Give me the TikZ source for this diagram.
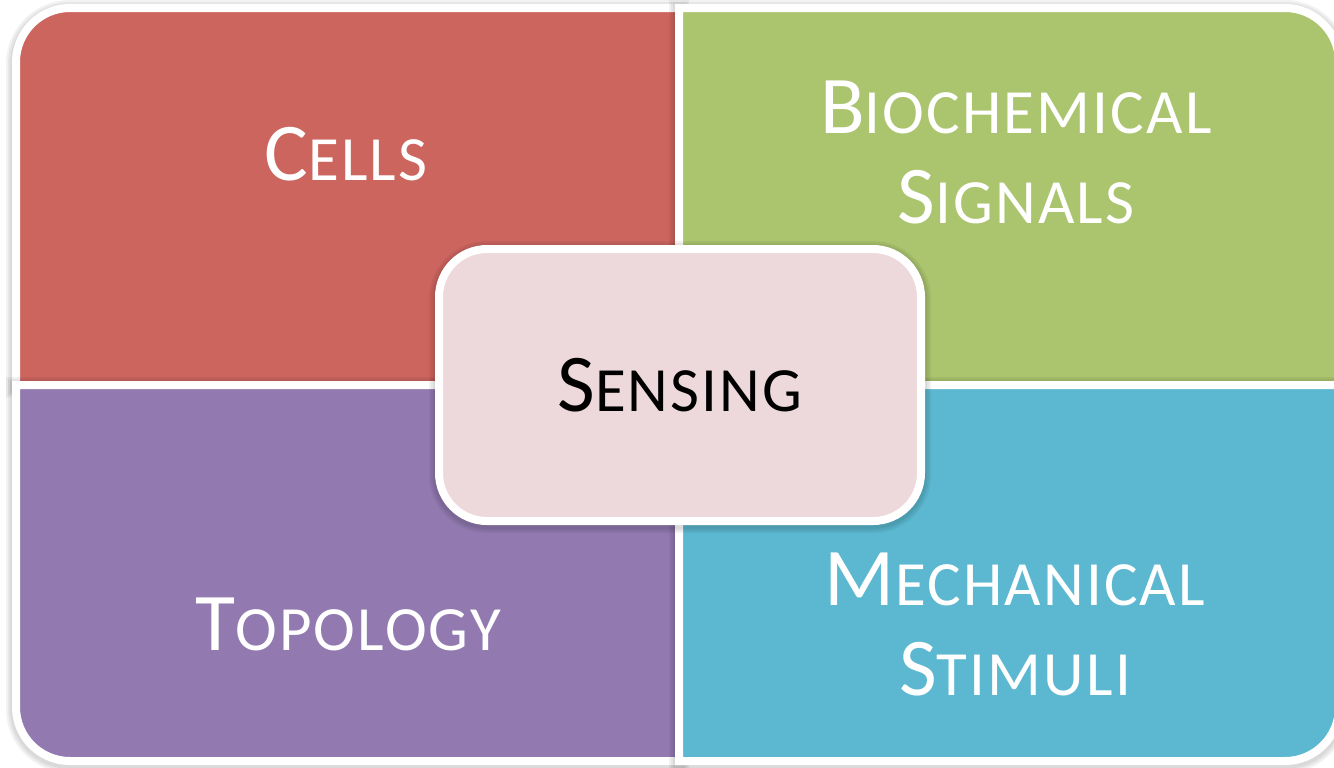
\documentclass[tikz,border=0pt]{standalone}
\usepackage{fontspec}
\setmainfont{Carlito}
\definecolor{cellred}{RGB}{205,101,95}
\definecolor{biogreen}{RGB}{171,196,110}
\definecolor{topopurple}{RGB}{146,122,177}
\definecolor{mechblue}{RGB}{91,184,208}
\definecolor{sensepink}{RGB}{237,217,219}
% first letter full size, the rest as small capitals
\newcommand{\capsword}[2]{#1{\fontsize{31.5}{45}\selectfont\addfontfeature{LetterSpace=3.5}#2}}
\begin{document}
\begin{tikzpicture}[
		x=0.5pt, y=-0.5pt,
		halo/.style  = {draw=black, draw opacity=0.05, line width=#1, transform canvas={yshift=-1pt}},
		shade/.style = {preaction={halo=10pt}, preaction={halo=8pt}, preaction={halo=6pt}},
		quad/.style  = {shade, fill=#1, draw=white, line width=4pt},
		lbl/.style   = {text=white, font=\fontsize{41}{45}\selectfont, align=center}
		]
		\useasboundingbox (0,0) rectangle (1334,767);
		
		% Quadrants, each rounded at its outer corner
		\path[quad=cellred] (16,385) -- (16,200) [rounded corners=27pt] -- (16,8) -- (300,8) [sharp corners] -- (679,8) -- (679,385) -- cycle;
		\path[quad=biogreen] (679,385) -- (679,8) -- (1000,8) [rounded corners=27pt] -- (1339,8) -- (1339,200) [sharp corners] -- (1339,385) -- cycle;
		\path[quad=topopurple] (679,385) -- (16,385) -- (16,600) [rounded corners=27pt] -- (16,761) -- (300,761) [sharp corners] -- (679,761) -- cycle;
		\path[quad=mechblue] (679,385) -- (1339,385) -- (1339,600) [rounded corners=27pt] -- (1339,761) -- (1000,761) [sharp corners] -- (679,761) -- cycle;
		
		% Quadrant labels
		\node[lbl, anchor=base] (cells) at (346,180) {\capsword{C}{ELLS}};
		\node[lbl] (biochem) at (1016,152) {\capsword{B}{IOCHEMICAL}\\\capsword{S}{IGNALS}};
		\node[lbl, anchor=base] (topo) at (348,650) {\capsword{T}{OPOLOGY}};
		\node[lbl] (mech) at (1015,624) {\capsword{M}{ECHANICAL}\\\capsword{S}{TIMULI}};
		
		% Centre box
		\node[shade, fill=sensepink, draw=white, line width=4pt, rounded corners=24pt,
		minimum width=241pt, minimum height=136pt, font=\fontsize{41}{45}\selectfont] (sense) at (680,385) {\capsword{S}{ENSING}};
	\end{tikzpicture}
\end{document}
